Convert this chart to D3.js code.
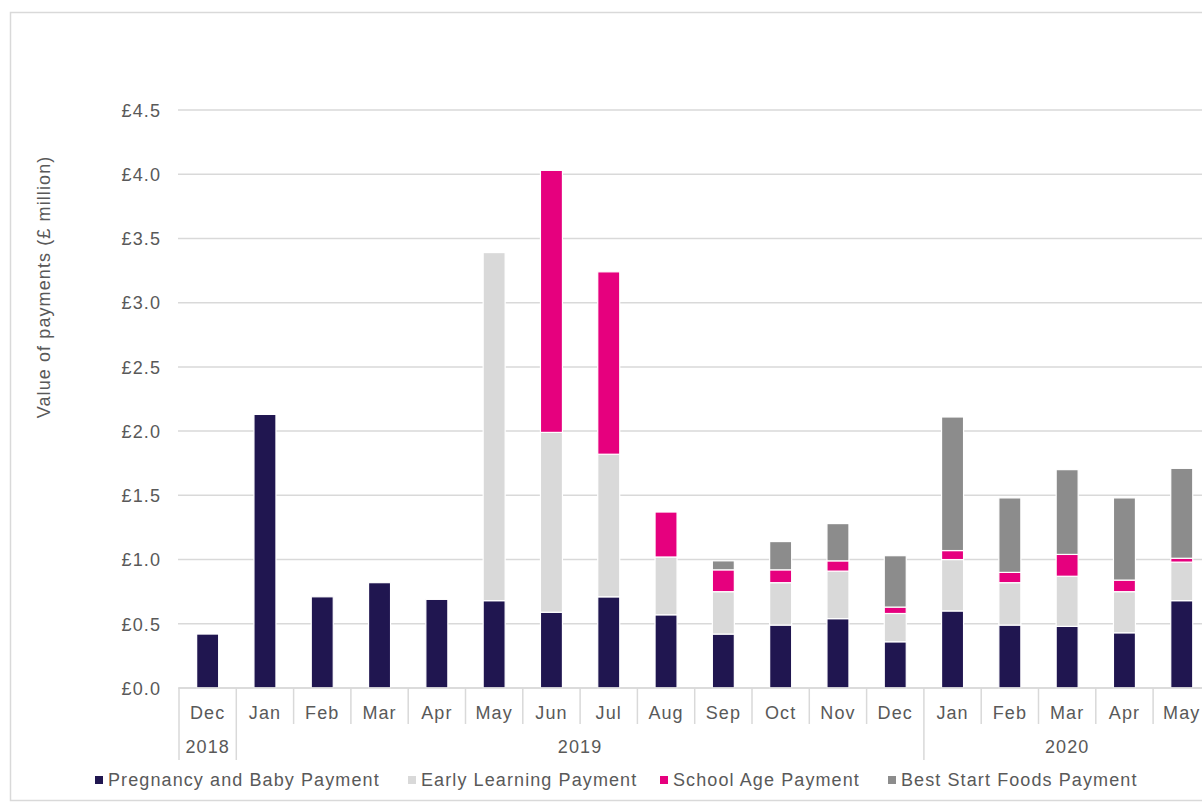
<!DOCTYPE html>
<html lang="en">
<head>
    <meta charset="UTF-8" />
    <title>Best Start Grant and Foods payments</title>
    <script src="https://d3js.org/d3.v7.min.js"></script>
    <style>
        body { margin: 0; background: #fff; }
        svg { display: block; font-family: "Liberation Sans", Arial, sans-serif; }
        text { fill: #595959; font-size: 18px; letter-spacing: 1.1px; }
    </style>
</head>
<body>
<div id="my_chart"></div>
<script>
    // Data (£ million)
    var months = ["Dec", "Jan", "Feb", "Mar", "Apr", "May", "Jun", "Jul", "Aug", "Sep",
                  "Oct", "Nov", "Dec", "Jan", "Feb", "Mar", "Apr", "May"];
    var years = ["2018", "2019", "2020"];
    var yearStart = [0, 1, 13];
    var yearEnd = [1, 13, 18];
    var seriesNames = ["Pregnancy and Baby Payment", "Early Learning Payment",
                       "School Age Payment", "Best Start Foods Payment"];
    var pregnancy = [0.42, 2.13, 0.71, 0.82, 0.69, 0.68, 0.59, 0.71, 0.57, 0.42,
                     0.49, 0.54, 0.36, 0.60, 0.49, 0.48, 0.43, 0.68];
    var earlyLearning = [0, 0, 0, 0, 0, 2.71, 1.40, 1.11, 0.45, 0.33,
                         0.33, 0.37, 0.22, 0.40, 0.33, 0.39, 0.32, 0.30];
    var schoolAge = [0, 0, 0, 0, 0, 0, 2.04, 1.42, 0.35, 0.17,
                     0.10, 0.08, 0.05, 0.07, 0.08, 0.17, 0.09, 0.03];
    var bestStartFoods = [0, 0, 0, 0, 0, 0, 0, 0, 0, 0.07,
                          0.22, 0.29, 0.40, 1.04, 0.58, 0.66, 0.64, 0.70];
    var yTicks = [0, 0.5, 1, 1.5, 2, 2.5, 3, 3.5, 4, 4.5];

    var colors = ["#201650", "#D9D9D9", "#E6007E", "#8C8C8C"];
    var keys = ["preg", "early", "school", "bsf"];

    var width = 1202, height = 803;
    var plotLeft = 179, step = 57.3, axisY = 688, topY = 110;
    var barW = 22;

    var rows = months.map(function (m, i) {
        return { i: i, preg: pregnancy[i], early: earlyLearning[i],
                 school: schoolAge[i], bsf: bestStartFoods[i] };
    });

    var svg = d3.select("#my_chart").append("svg")
        .attr("width", width)
        .attr("height", height);

    // chart frame
    svg.append("rect")
        .attr("x", 10.5).attr("y", 12.5)
        .attr("width", 1300).attr("height", 788)
        .attr("fill", "none")
        .attr("stroke", "#D9D9D9")
        .attr("stroke-width", 1.5);

    var x = d3.scaleBand()
        .domain(d3.range(months.length))
        .range([plotLeft, plotLeft + step * months.length])
        .padding(0);

    var y = d3.scaleLinear()
        .domain([0, 4.5])
        .range([axisY, topY]);

    // gridlines
    svg.append("g")
        .selectAll("line")
        .data(yTicks)
        .join("line")
        .attr("x1", plotLeft - 1)
        .attr("x2", width + 20)
        .attr("y1", d => y(d))
        .attr("y2", d => y(d))
        .attr("stroke", "#D9D9D9")
        .attr("stroke-width", 1.5);

    // Y axis labels
    var yAxis = svg.append("g")
        .attr("transform", "translate(" + (plotLeft - 18) + ",0)")
        .call(d3.axisLeft(y).tickValues(yTicks).tickSize(0)
            .tickFormat(d => "£" + d3.format(".1f")(d)));
    yAxis.select(".domain").remove();
    yAxis.selectAll("text")
        .attr("dy", "0.35em")
        .attr("x", 0);

    svg.append("text")
        .attr("transform", "translate(50,287) rotate(-90)")
        .attr("text-anchor", "middle")
        .text("Value of payments (£ million)");

    // stacked bars
    var stacked = d3.stack().keys(keys)(rows);
    svg.append("g")
        .selectAll("g")
        .data(stacked)
        .join("g")
        .attr("fill", (d, i) => colors[i])
        .selectAll("rect")
        .data(d => d.filter(s => s[1] - s[0] > 0))
        .join("rect")
        .attr("x", d => x(d.data.i) + (x.bandwidth() - barW) / 2)
        .attr("width", barW)
        .attr("y", d => y(d[1]))
        .attr("height", d => y(d[0]) - y(d[1]))
        .attr("stroke", "#fff")
        .attr("stroke-width", 1.2);

    // X axis line, month ticks and labels
    svg.append("line")
        .attr("x1", plotLeft).attr("x2", width + 20)
        .attr("y1", axisY).attr("y2", axisY)
        .attr("stroke", "#D9D9D9").attr("stroke-width", 1.5);

    svg.append("g")
        .selectAll("line")
        .data(d3.range(months.length + 1))
        .join("line")
        .attr("x1", d => plotLeft + d * step)
        .attr("x2", d => plotLeft + d * step)
        .attr("y1", axisY)
        .attr("y2", d => yearStart.indexOf(d) >= 0 || d === months.length ? 760 : 724)
        .attr("stroke", "#D9D9D9")
        .attr("stroke-width", 1.5);

    svg.append("g")
        .selectAll("text")
        .data(months)
        .join("text")
        .attr("x", (d, i) => x(i) + x.bandwidth() / 2)
        .attr("y", 719)
        .attr("text-anchor", "middle")
        .text(d => d);

    svg.append("g")
        .selectAll("text")
        .data(years)
        .join("text")
        .attr("x", (d, i) => plotLeft + (yearStart[i] + yearEnd[i]) / 2 * step)
        .attr("y", 753)
        .attr("text-anchor", "middle")
        .text(d => d);

    // legend
    var legendX = [95, 408, 660, 888];
    var legend = svg.append("g")
        .selectAll("g")
        .data(seriesNames)
        .join("g")
        .attr("transform", (d, i) => "translate(" + legendX[i] + ",776)");
    legend.append("rect")
        .attr("width", 8).attr("height", 8)
        .attr("fill", (d, i) => colors[i]);
    legend.append("text")
        .attr("x", 13)
        .attr("y", 4)
        .attr("dy", "0.35em")
        .text(d => d);
</script>
</body>
</html>
